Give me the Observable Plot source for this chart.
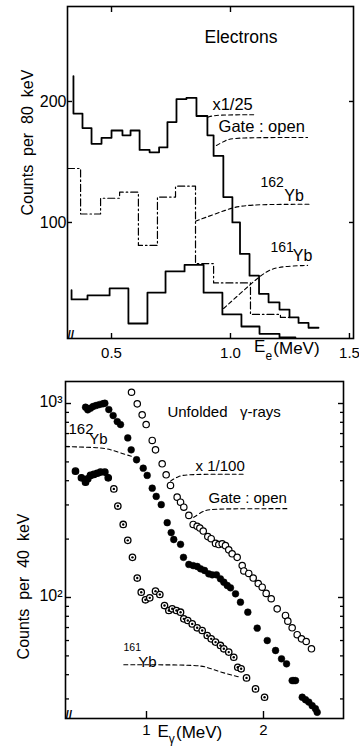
<!DOCTYPE html>
<html><head><meta charset="utf-8">
<script src="https://cdn.jsdelivr.net/npm/d3@7"></script>
<script src="https://cdn.jsdelivr.net/npm/@observablehq/plot@0.6"></script>
<style>
body{margin:0;background:#fff;}
#chart svg{display:block;}
</style></head><body><div id="chart"></div>
<script>
// ---------- TOP PANEL: electrons (counts per 80 keV) ----------
const topXTicks = [0.5, 1.0, 1.5];
const topXTickLabels = ["0.5", "1.0", "1.5"];
const topYTicks = [100, 200];
const topYTickLabels = ["100", "200"];

// Gate open (x1/25) histogram
const gateEdges = [0.340, 0.378, 0.416, 0.458, 0.500, 0.546, 0.580, 0.618, 0.660, 0.700, 0.735, 0.773, 0.815, 0.857, 0.903, 0.929, 0.970, 1.008, 1.040, 1.080, 1.120, 1.160, 1.206, 1.248, 1.286, 1.328, 1.370];
const gateCounts = [190, 178, 165, 170, 176, 172, 176, 160, 158, 162, 183, 202, 203, 188, 172, 155, 121, 100, 74, 56, 41, 34, 28, 21.5, 17, 13];
const gateStart = 221;

// 162Yb histogram (dash-dot)
const yb162Edges = [0.315, 0.370, 0.454, 0.534, 0.613, 0.693, 0.769, 0.853, 0.929, 1.084, 1.210, 1.252];
const yb162Counts = [144.6, 107, 120, 125, 81, 121, 130, 66, 50, 24, 21.5];

// 161Yb histogram (solid)
const yb161Edges = [0.332, 0.399, 0.492, 0.571, 0.651, 0.727, 0.807, 0.887, 0.966, 1.046, 1.122, 1.206, 1.273];
const yb161Counts = [36.4, 39.7, 45.5, 16.5, 42, 59.5, 65, 42, 24, 14, 8, 5];
const yb161Start = 44;

// leader lines (MeV, counts)
const topLeadGate1 = [[0.905, 187], [0.935, 189], [1.105, 189]];
const topLeadGate2 = [[0.941, 163.6], [0.98, 168], [1.013, 170.2], [1.324, 170.2]];
const topLead162 = [[0.853, 101], [0.988, 111], [1.06, 115], [1.336, 115]];
const topLead161 = [[0.971, 28.9], [1.092, 50.4], [1.14, 58], [1.19, 63.6], [1.324, 64.5]];

// annotations (MeV, counts)
const topNotesBig = [{t: "Electrons", e: 0.891, c: 253}];
const topNotes = [{t: "x1/25", e: 0.924, c: 197}, {t: "Gate : open", e: 0.950, c: 179}];
const topIso = [{t: "162", e: 1.126, c: 133}, {t: "161", e: 1.168, c: 79.6}];
const topYb = [{t: "Yb", e: 1.226, c: 122}, {t: "Yb", e: 1.262, c: 72}];
const topYTitle = "Counts\u00a0\u00a0per\u00a0\u00a080\u00a0\u00a0keV";
const topYTitleAt = 166;

// ---------- BOTTOM PANEL: unfolded gamma rays (counts per 40 keV) ----------
const botXTicks = [1, 2];
const botXTickLabels = ["1", "2"];
const botYMajor = [100, 1000];
const botYMajorLabels = ["10\u00b2", "10\u00b3"];
const botYMinor = [30, 40, 50, 60, 70, 80, 90, 200, 300, 400, 500, 600, 700, 800, 900];

// Gate open x1/100 (open circles)
const openE = [0.872, 0.921, 0.963, 0.997, 1.049, 1.077, 1.134, 1.168, 1.205, 1.262, 1.291, 1.319, 1.362, 1.399, 1.433, 1.456, 1.485, 1.524, 1.553, 1.590, 1.618, 1.647, 1.675, 1.703, 1.732, 1.775, 1.818, 1.832, 1.874, 1.912, 1.955, 1.989, 2.023, 2.066, 2.117, 2.188, 2.208, 2.245, 2.288, 2.325, 2.365, 2.410];
const openC = [1143, 996, 874, 779, 645, 577, 489, 429, 378, 329, 310, 292, 265, 238, 233, 228, 220, 206, 201, 190, 187.5, 189, 185, 176, 168, 161, 146, 137, 133, 126, 118, 113, 105, 98.5, 87.4, 80.8, 75.5, 69.8, 64.3, 61.2, 59.3, 54.4];

// 162Yb (filled circles)
const yb162E = [0.479, 0.498, 0.521, 0.544, 0.570, 0.598, 0.627, 0.644, 0.678, 0.715, 0.750, 0.778, 0.840, 0.869, 0.915, 0.972, 1.006, 1.049, 1.083, 1.126, 1.177, 1.211, 1.233, 1.291, 1.316, 1.362, 1.399, 1.433, 1.462, 1.496, 1.532, 1.562, 1.598, 1.632, 1.661, 1.690, 1.718, 1.761, 1.803, 1.866, 1.946, 2.032, 2.103, 2.154, 2.197, 2.245, 2.259, 2.274, 2.331, 2.359, 2.387, 2.416, 2.444, 2.459];
const yb162C = [957, 928, 946, 965, 977, 988, 997, 1003, 931, 867, 807, 779, 665, 577, 513, 464, 426, 366, 332, 301, 243, 216, 199, 188, 161, 148, 146, 144.5, 140.6, 137.8, 132.4, 130.9, 130.9, 124.8, 119.9, 115.3, 112.2, 104.5, 94.6, 84.0, 69.5, 60.0, 53.3, 48.3, 45.5, 37.3, 37.3, 37.3, 30.6, 29.7, 28.9, 27.7, 26.7, 25.6];

// 161Yb (dotted circles)
const yb161E = [0.393, 0.444, 0.479, 0.498, 0.521, 0.550, 0.579, 0.607, 0.644, 0.673, 0.721, 0.755, 0.801, 0.840, 0.880, 0.921, 0.955, 0.991, 1.028, 1.077, 1.114, 1.154, 1.191, 1.220, 1.256, 1.291, 1.319, 1.353, 1.391, 1.433, 1.476, 1.519, 1.553, 1.590, 1.632, 1.661, 1.703, 1.746, 1.780, 1.809, 1.855, 1.932, 2.009];
const yb161C = [448, 414, 393, 409, 426, 431, 437, 443, 443, 414, 363, 296, 238, 197, 161, 126, 106.5, 97.3, 99.6, 107.8, 103.6, 90.9, 85.7, 87.5, 85.7, 84.0, 77.6, 76.1, 73.1, 69.8, 67.6, 63.7, 61.2, 58.9, 56.6, 54.4, 52.3, 49.2, 43.7, 42.9, 38.5, 33.8, 30.6];

const botLead162 = [[0.308, 600], [0.607, 593], [0.692, 580], [0.778, 556], [0.880, 533]];
const botLeadX100 = [[1.205, 398], [1.27, 422], [1.348, 432], [1.832, 432]];
const botLeadGate = [[1.404, 259], [1.49, 281], [1.575, 287], [2.203, 287]];
const botLead161 = [[0.806, 45], [1.433, 45], [1.519, 43.7], [1.632, 41.2], [1.803, 38.8]];

const botNotes = [{t: "Unfolded\u00a0\u00a0\u00a0\u03b3-rays", e: 1.179, c: 899}, {t: "x 1/100", e: 1.419, c: 473}, {t: "Gate : open", e: 1.530, c: 326}];
const botIso162 = [{t: "162", e: 0.333, c: 735}];
const botYb162 = [{t: "Yb", e: 0.510, c: 652}];
const botIso161 = [{t: "161", e: 0.803, c: 55}];
const botYb161 = [{t: "Yb", e: 0.930, c: 46.6}];
const botYTitle = "Counts\u00a0\u00a0per\u00a0\u00a040\u00a0\u00a0keV";
const botYTitleAt = 114;

// ---------- helpers ----------
function steps(edges, counts, start) {
  const pts = [];
  if (start != null) pts.push({e: edges[0], c: start});
  counts.forEach((c, i) => pts.push({e: edges[i], c}));
  pts.push({e: edges[edges.length - 1], c: counts[counts.length - 1]});
  return pts;
}
const pairs = (a) => a.map(([e, c]) => ({e, c}));
const zipEC = (E, C) => E.map((e, i) => ({e, c: C[i], i}));
const font = "'Liberation Sans', Arial, sans-serif";
const style = {fontFamily: font, fontSize: "15px", color: "black", background: "white"};
const lead = (a) => Plot.line(pairs(a), {x: "e", y: "c", curve: "basis", stroke: "black", strokeWidth: 1.1, strokeDasharray: "4,3"});

const topPanel = Plot.plot({
  width: 359, height: 370,
  marginTop: 6, marginLeft: 67, marginRight: 6, marginBottom: 32,
  x: {domain: [0.315, 1.517]},
  y: {domain: [4.1, 278.5]},
  style,
  marks: [
    Plot.frame({stroke: "black", strokeWidth: 1.6}),
    Plot.axisY(topYTicks, {anchor: "left", tickSize: -5, fill: "none", label: null, strokeWidth: 1.4}),
    Plot.axisY(topYTicks, {anchor: "right", tickSize: -5, fill: "none", label: null, strokeWidth: 1.4}),
    Plot.axisY(topYTicks, {anchor: "left", tickSize: 0, tickPadding: 1, label: null, fontSize: 16, tickFormat: d => topYTickLabels[topYTicks.indexOf(d)]}),
    Plot.axisX(topXTicks, {anchor: "bottom", tickSize: -5, fill: "none", label: null, strokeWidth: 1.4}),
    Plot.axisX(topXTicks.slice(0, 2), {anchor: "top", tickSize: -5, fill: "none", label: null, strokeWidth: 1.4}),
    Plot.axisX(topXTicks, {anchor: "bottom", tickSize: 0, tickPadding: 9, label: null, fontSize: 15, tickFormat: d => topXTickLabels[topXTicks.indexOf(d)]}),
    Plot.text([{t: "E", e: 1.099}], {x: "e", text: "t", frameAnchor: "bottom", textAnchor: "start", dy: 13, fontSize: 17}),
    Plot.text([{t: "e", e: 1.147}], {x: "e", text: "t", frameAnchor: "bottom", textAnchor: "start", dy: 21, fontSize: 12}),
    Plot.text([{t: "(MeV)", e: 1.180}], {x: "e", text: "t", frameAnchor: "bottom", textAnchor: "start", dy: 15, fontSize: 17}),
    Plot.text(["//"], {text: d => d, frameAnchor: "bottom-left", textAnchor: "start", dx: 0, dy: 0, fontSize: 12, fontWeight: "bold"}),
    Plot.text([{t: topYTitle, c: topYTitleAt}], {y: "c", text: "t", frameAnchor: "left", textAnchor: "middle", rotate: -90, dx: -40, fontSize: 16}),
    Plot.line(steps(gateEdges, gateCounts, gateStart), {x: "e", y: "c", curve: "step-after", stroke: "black", strokeWidth: 1.8}),
    Plot.line(steps(yb162Edges, yb162Counts), {x: "e", y: "c", curve: "step-after", stroke: "black", strokeWidth: 1.2, strokeDasharray: "7,3,1.5,3"}),
    Plot.line(steps(yb161Edges, yb161Counts, yb161Start), {x: "e", y: "c", curve: "step-after", stroke: "black", strokeWidth: 1.8}),
    lead(topLeadGate1), lead(topLeadGate2), lead(topLead162), lead(topLead161),
    Plot.text(topNotesBig, {x: "e", y: "c", text: "t", textAnchor: "start", fontSize: 17.5}),
    Plot.text(topNotes, {x: "e", y: "c", text: "t", textAnchor: "start", fontSize: 16.5}),
    Plot.text(topIso, {x: "e", y: "c", text: "t", textAnchor: "start", fontSize: 14}),
    Plot.text(topYb, {x: "e", y: "c", text: "t", textAnchor: "start", fontSize: 16})
  ]
});

const botPanel = Plot.plot({
  width: 359, height: 378,
  marginTop: 11, marginLeft: 65, marginRight: 16, marginBottom: 30,
  x: {domain: [0.3077, 2.6838]},
  y: {type: "log", domain: [23.78, 1298.6]},
  style,
  marks: [
    Plot.frame({stroke: "black", strokeWidth: 1.6}),
    Plot.axisY(botYMajor, {anchor: "left", tickSize: -6, fill: "none", label: null, strokeWidth: 1.4}),
    Plot.axisY(botYMajor, {anchor: "right", tickSize: -6, fill: "none", label: null, strokeWidth: 1.4}),
    Plot.axisY(botYMinor, {anchor: "left", tickSize: -4, fill: "none", label: null, strokeWidth: 1.3}),
    Plot.axisY(botYMinor, {anchor: "right", tickSize: -4, fill: "none", label: null, strokeWidth: 1.3}),
    Plot.axisY(botYMajor, {anchor: "left", tickSize: 0, tickPadding: 3, label: null, fontSize: 16, dy: -2, tickFormat: d => botYMajorLabels[botYMajor.indexOf(d)]}),
    Plot.axisX(botXTicks, {anchor: "bottom", tickSize: -7, fill: "none", label: null, strokeWidth: 1.4}),
    Plot.axisX(botXTicks, {anchor: "bottom", tickSize: 0, tickPadding: 6, label: null, fontSize: 15, tickFormat: d => botXTickLabels[botXTicks.indexOf(d)]}),
    Plot.text([{t: "E", e: 1.094}], {x: "e", text: "t", frameAnchor: "bottom", textAnchor: "start", dy: 18, fontSize: 17}),
    Plot.text([{t: "\u03b3", e: 1.190}], {x: "e", text: "t", frameAnchor: "bottom", textAnchor: "start", dy: 24, fontSize: 12}),
    Plot.text([{t: "(MeV)", e: 1.252}], {x: "e", text: "t", frameAnchor: "bottom", textAnchor: "start", dy: 19, fontSize: 17}),
    Plot.text(["//"], {text: d => d, frameAnchor: "bottom-left", textAnchor: "start", dx: 0, dy: 0, fontSize: 12, fontWeight: "bold"}),
    Plot.text([{t: botYTitle, c: botYTitleAt}], {y: "c", text: "t", frameAnchor: "left", textAnchor: "middle", rotate: -90, dx: -42, fontSize: 16}),
    lead(botLead162), lead(botLeadX100), lead(botLeadGate), lead(botLead161),
    Plot.dot(zipEC(openE, openC), {x: "e", y: "c", r: 3.2, fill: "white", stroke: "black", strokeWidth: 1.2}),
    Plot.dot(zipEC(yb162E, yb162C), {x: "e", y: "c", r: 3.4, fill: "black", stroke: "black", strokeWidth: 0.5}),
    Plot.dot(zipEC(yb161E, yb161C), {x: "e", y: "c", r: 3.2, fill: d => d.i < 10 ? "black" : "white", stroke: "black", strokeWidth: 1.3}),
    Plot.dot(zipEC(yb161E, yb161C), {x: "e", y: "c", r: 1.2, fill: "black", stroke: "none"}),
    Plot.text(botNotes, {x: "e", y: "c", text: "t", textAnchor: "start", fontSize: 15}),
    Plot.text(botIso162, {x: "e", y: "c", text: "t", textAnchor: "start", fontSize: 15}),
    Plot.text(botYb162, {x: "e", y: "c", text: "t", textAnchor: "start", fontSize: 15}),
    Plot.text(botIso161, {x: "e", y: "c", text: "t", textAnchor: "start", fontSize: 10.5}),
    Plot.text(botYb161, {x: "e", y: "c", text: "t", textAnchor: "start", fontSize: 15})
  ]
});

const el = document.getElementById("chart");
el.appendChild(topPanel);
el.appendChild(botPanel);
</script></body></html>
